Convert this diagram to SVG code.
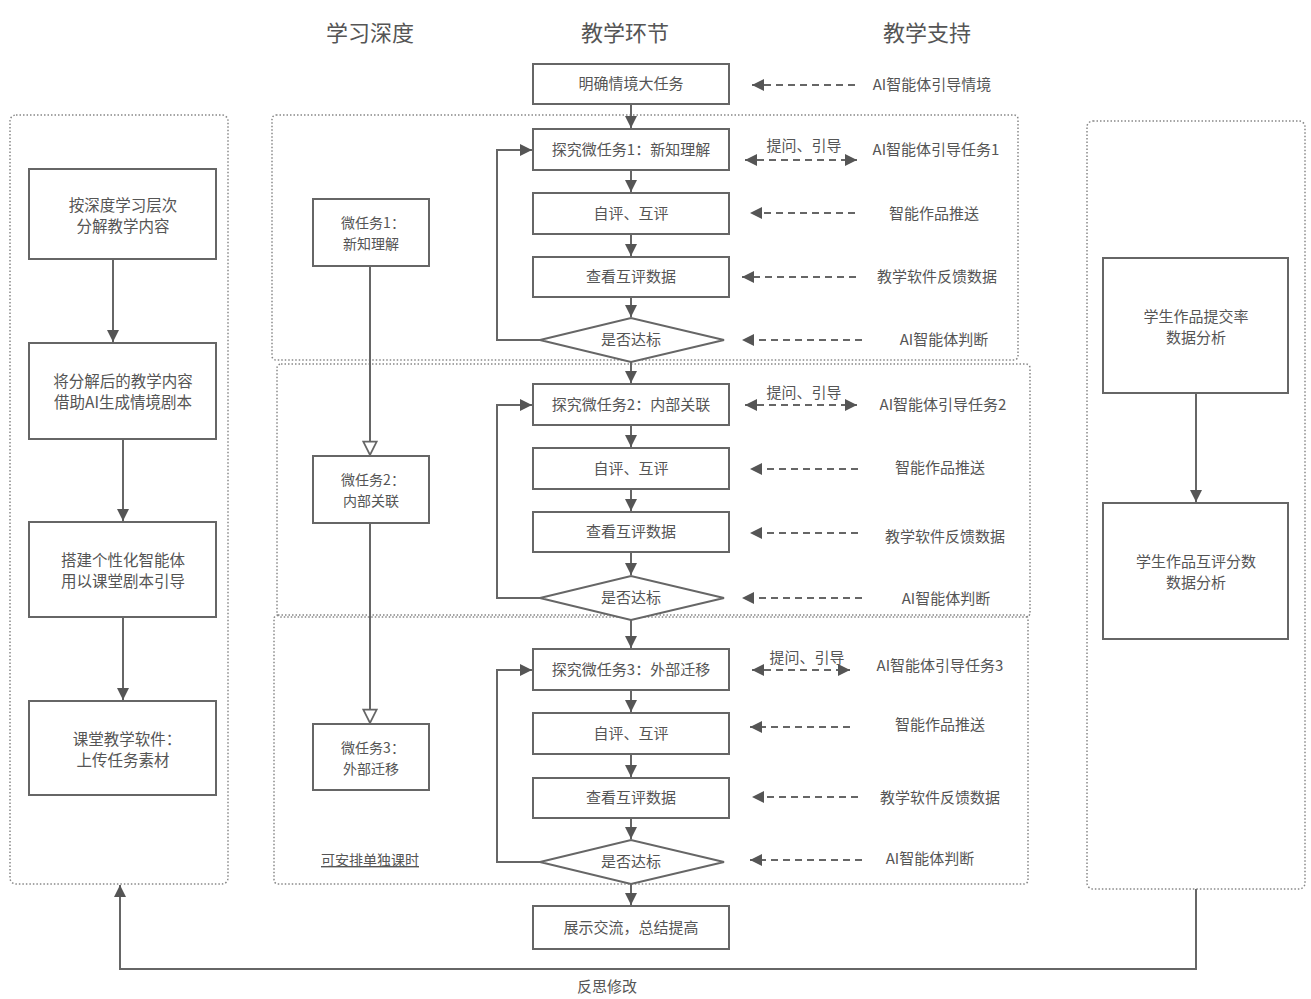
<svg xmlns="http://www.w3.org/2000/svg" width="1311" height="999" viewBox="0 0 1311 999">
<defs>
<style>
text{font-family:"Noto Sans CJK SC","Noto Sans",sans-serif;fill:#555;}
.h{font-size:22px;text-anchor:middle;}
.t{font-size:15px;text-anchor:middle;}
.s{font-size:15.5px;text-anchor:middle;}
.m{font-size:14px;text-anchor:middle;}
.l{font-size:15px;text-anchor:middle;}
.box{fill:#fff;stroke:#666;stroke-width:2;}
.grp{fill:none;stroke:#888;stroke-width:1.5;stroke-dasharray:1.5 2;}
.ln{fill:none;stroke:#666;stroke-width:2;}
.ds{fill:none;stroke:#666;stroke-width:2;stroke-dasharray:7 5;}
</style>
<marker id="a" viewBox="0 0 10 10" refX="10" refY="5" markerWidth="6" markerHeight="6" orient="auto-start-reverse" markerUnits="strokeWidth">
<path d="M0,0 L10,5 L0,10 z" fill="#555"/>
</marker>
<marker id="o" viewBox="0 0 12 12" refX="11" refY="6" markerWidth="8" markerHeight="8" orient="auto" markerUnits="strokeWidth">
<path d="M1,1 L11,6 L1,11 z" fill="#fff" stroke="#666" stroke-width="1.3"/>
</marker>
</defs>
<rect width="1311" height="999" fill="#fff"/>

<g id="headers">
<text class="h" x="370" y="41">学习深度</text>
<text class="h" x="625" y="41">教学环节</text>
<text class="h" x="927" y="41">教学支持</text>
</g>

<g id="groups">
<rect class="grp" x="10" y="115" width="218" height="769" rx="6"/>
<rect class="grp" x="272" y="115" width="746" height="245" rx="4"/>
<rect class="grp" x="277" y="364" width="753" height="253" rx="4"/>
<rect class="grp" x="274" y="615" width="754" height="269" rx="4"/>
<rect class="grp" x="1087" y="121" width="218" height="768" rx="6"/>
</g>

<g id="connectors">
<line class="ln" x1="113" y1="259" x2="113" y2="342" marker-end="url(#a)"/>
<line class="ln" x1="123" y1="439" x2="123" y2="521" marker-end="url(#a)"/>
<line class="ln" x1="123" y1="617" x2="123" y2="700" marker-end="url(#a)"/>
<line class="ln" x1="370" y1="266" x2="370" y2="455" marker-end="url(#o)"/>
<line class="ln" x1="370" y1="523" x2="370" y2="723" marker-end="url(#o)"/>
<line class="ln" x1="1196" y1="393" x2="1196" y2="502" marker-end="url(#a)"/>
<line class="ln" x1="631" y1="104" x2="631" y2="128" marker-end="url(#a)"/>
<line class="ln" x1="631" y1="170" x2="631" y2="192" marker-end="url(#a)"/>
<line class="ln" x1="631" y1="234" x2="631" y2="256" marker-end="url(#a)"/>
<line class="ln" x1="631" y1="297" x2="631" y2="317" marker-end="url(#a)"/>
<line class="ln" x1="631" y1="362" x2="631" y2="383" marker-end="url(#a)"/>
<line class="ln" x1="631" y1="425" x2="631" y2="447" marker-end="url(#a)"/>
<line class="ln" x1="631" y1="489" x2="631" y2="511" marker-end="url(#a)"/>
<line class="ln" x1="631" y1="552" x2="631" y2="575" marker-end="url(#a)"/>
<line class="ln" x1="631" y1="620" x2="631" y2="648" marker-end="url(#a)"/>
<line class="ln" x1="631" y1="690" x2="631" y2="712" marker-end="url(#a)"/>
<line class="ln" x1="631" y1="754" x2="631" y2="777" marker-end="url(#a)"/>
<line class="ln" x1="631" y1="818" x2="631" y2="839" marker-end="url(#a)"/>
<line class="ln" x1="631" y1="884" x2="631" y2="905" marker-end="url(#a)"/>
<polyline class="ln" points="540,340 497,340 497,150 532,150" marker-end="url(#a)"/>
<polyline class="ln" points="540,598 497,598 497,405 532,405" marker-end="url(#a)"/>
<polyline class="ln" points="540,862 497,862 497,670 532,670" marker-end="url(#a)"/>
<line class="ds" x1="855" y1="85" x2="752" y2="85" marker-end="url(#a)"/>
<line class="ds" x1="745" y1="160" x2="857" y2="160" marker-start="url(#a)" marker-end="url(#a)"/>
<line class="ds" x1="855" y1="213" x2="750" y2="213" marker-end="url(#a)"/>
<line class="ds" x1="856" y1="277" x2="742" y2="277" marker-end="url(#a)"/>
<line class="ds" x1="862" y1="340" x2="742" y2="340" marker-end="url(#a)"/>
<line class="ds" x1="745" y1="405" x2="857" y2="405" marker-start="url(#a)" marker-end="url(#a)"/>
<line class="ds" x1="858" y1="469" x2="750" y2="469" marker-end="url(#a)"/>
<line class="ds" x1="858" y1="533" x2="750" y2="533" marker-end="url(#a)"/>
<line class="ds" x1="862" y1="598" x2="742" y2="598" marker-end="url(#a)"/>
<line class="ds" x1="752" y1="670" x2="850" y2="670" marker-start="url(#a)" marker-end="url(#a)"/>
<line class="ds" x1="850" y1="727" x2="750" y2="727" marker-end="url(#a)"/>
<line class="ds" x1="858" y1="797" x2="752" y2="797" marker-end="url(#a)"/>
<line class="ds" x1="862" y1="860" x2="750" y2="860" marker-end="url(#a)"/>
<polyline class="ln" points="1196,889 1196,969 120,969 120,885" marker-end="url(#a)"/>
</g>

<g id="left-nodes">
<g id="L1"><rect class="box" x="29" y="169" width="187" height="90"/><text class="s" x="123" y="211">按深度学习层次</text><text class="s" x="123" y="232">分解教学内容</text></g>
<g id="L2"><rect class="box" x="29" y="343" width="187" height="96"/><text class="s" x="123" y="387">将分解后的教学内容</text><text class="s" x="123" y="408">借助AI生成情境剧本</text></g>
<g id="L3"><rect class="box" x="29" y="522" width="187" height="95"/><text class="s" x="123" y="566">搭建个性化智能体</text><text class="s" x="123" y="587">用以课堂剧本引导</text></g>
<g id="L4"><rect class="box" x="29" y="701" width="187" height="94"/><text class="s" x="127" y="745">课堂教学软件：</text><text class="s" x="123" y="766">上传任务素材</text></g>
</g>

<g id="depth-nodes">
<g id="D1"><rect class="box" x="313" y="199" width="116" height="67"/><text class="m" x="373" y="228">微任务1：</text><text class="m" x="371" y="249">新知理解</text></g>
<g id="D2"><rect class="box" x="313" y="456" width="116" height="67"/><text class="m" x="373" y="485">微任务2：</text><text class="m" x="371" y="506">内部关联</text></g>
<g id="D3"><rect class="box" x="313" y="724" width="116" height="66"/><text class="m" x="373" y="753">微任务3：</text><text class="m" x="371" y="774">外部迁移</text></g>
<text id="note" class="m" x="370" y="865" style="text-decoration:underline">可安排单独课时</text>
</g>

<g id="flow-nodes">
<g id="F0"><rect class="box" x="533" y="64" width="196" height="40"/><text class="t" x="631" y="89">明确情境大任务</text></g>
<g id="F1"><rect class="box" x="533" y="129" width="196" height="41"/><text class="t" x="631" y="155">探究微任务1：新知理解</text></g>
<g id="F2"><rect class="box" x="533" y="193" width="196" height="41"/><text class="t" x="631" y="219">自评、互评</text></g>
<g id="F3"><rect class="box" x="533" y="257" width="196" height="40"/><text class="t" x="631" y="282">查看互评数据</text></g>
<g id="F4"><polygon class="box" points="540,340 631,318 724,340 631,362"/><text class="t" x="631" y="345">是否达标</text></g>
<g id="F5"><rect class="box" x="533" y="384" width="196" height="41"/><text class="t" x="631" y="410">探究微任务2：内部关联</text></g>
<g id="F6"><rect class="box" x="533" y="448" width="196" height="41"/><text class="t" x="631" y="474">自评、互评</text></g>
<g id="F7"><rect class="box" x="533" y="512" width="196" height="40"/><text class="t" x="631" y="537">查看互评数据</text></g>
<g id="F8"><polygon class="box" points="540,598 631,576 724,598 631,620"/><text class="t" x="631" y="603">是否达标</text></g>
<g id="F9"><rect class="box" x="533" y="649" width="196" height="41"/><text class="t" x="631" y="675">探究微任务3：外部迁移</text></g>
<g id="F10"><rect class="box" x="533" y="713" width="196" height="41"/><text class="t" x="631" y="739">自评、互评</text></g>
<g id="F11"><rect class="box" x="533" y="778" width="196" height="40"/><text class="t" x="631" y="803">查看互评数据</text></g>
<g id="F12"><polygon class="box" points="540,862 631,840 724,862 631,884"/><text class="t" x="631" y="867">是否达标</text></g>
<g id="F13"><rect class="box" x="533" y="906" width="196" height="43"/><text class="t" x="631" y="933">展示交流，总结提高</text></g>
</g>

<g id="support-labels">
<text class="l" x="932" y="90">AI智能体引导情境</text>
<text class="l" x="804" y="151">提问、引导</text>
<text class="l" x="936" y="155">AI智能体引导任务1</text>
<text class="l" x="934" y="219">智能作品推送</text>
<text class="l" x="937" y="282">教学软件反馈数据</text>
<text class="l" x="944" y="345">AI智能体判断</text>
<text class="l" x="804" y="398">提问、引导</text>
<text class="l" x="943" y="410">AI智能体引导任务2</text>
<text class="l" x="940" y="473">智能作品推送</text>
<text class="l" x="945" y="542">教学软件反馈数据</text>
<text class="l" x="946" y="604">AI智能体判断</text>
<text class="l" x="807" y="663">提问、引导</text>
<text class="l" x="940" y="671">AI智能体引导任务3</text>
<text class="l" x="940" y="730">智能作品推送</text>
<text class="l" x="940" y="803">教学软件反馈数据</text>
<text class="l" x="930" y="864">AI智能体判断</text>
</g>

<g id="right-nodes">
<g id="R1"><rect class="box" x="1103" y="258" width="185" height="135"/><text class="t" x="1196" y="322">学生作品提交率</text><text class="t" x="1196" y="343">数据分析</text></g>
<g id="R2"><rect class="box" x="1103" y="503" width="185" height="136"/><text class="t" x="1196" y="567">学生作品互评分数</text><text class="t" x="1196" y="588">数据分析</text></g>
</g>

<text id="feedback-label" class="t" x="607" y="992">反思修改</text>
</svg>
